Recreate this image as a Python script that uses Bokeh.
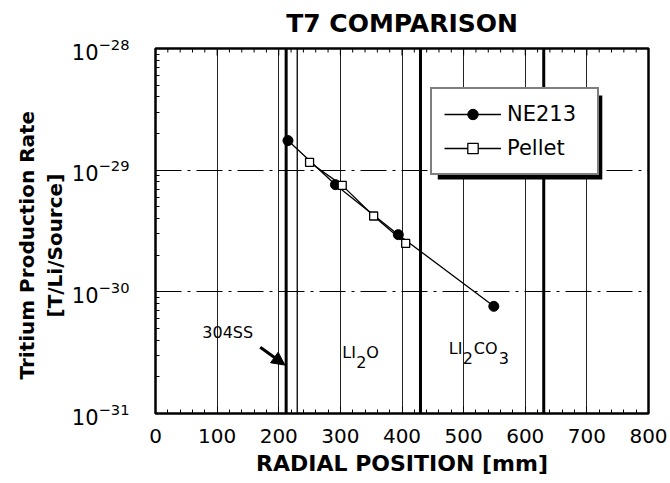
from bokeh.plotting import figure
from bokeh.models import (SingleIntervalTicker, LogTicker, Span, Arrow, Title,
                          NormalHead, Legend, LegendItem, BoxAnnotation, ColumnDataSource)
from bokeh.core.properties import value
from bokeh.embed import file_html
from bokeh.resources import INLINE

# ---- data ----
ne213_x = [215, 292, 394, 549]
ne213_y = [1.75e-29, 7.6e-30, 2.95e-30, 7.6e-31]
pellet_x = [250, 303, 354, 406]
pellet_y = [1.16e-29, 7.5e-30, 4.2e-30, 2.5e-30]

x_min, x_max, x_step, x_minor_step = 0, 800, 100, 20
y_min, y_max = 1e-31, 1e-28
boundary_thick_mm = [212, 430, 630]
boundary_thin_mm = [230]
y_title_lines = ["Tritium Production Rate", "[T/Li/Source]"]

FONT = "DejaVu Sans"
PX_PER_DECADE = 365 / 3.0

p = figure(width=670, height=483, x_range=(x_min, x_max), y_range=(y_min, y_max),
           y_axis_type="log", output_backend="svg", toolbar_location=None,
           min_border_left=155, min_border_right=22, min_border_top=48,
           min_border_bottom=70)

p.title.text = "T7 COMPARISON"
p.title.align = "center"
p.title.vertical_align = "top"
p.title.text_font = FONT
p.title.text_font_size = "25px"
p.title.text_font_style = "bold"
p.title.text_color = "black"
p.title.text_line_height = 0.8
p.title.standoff = 17

p.outline_line_color = "black"
p.outline_line_width = 2.5
p.outline_line_alpha = 1
p.background_fill_color = "white"
p.border_fill_color = "white"

# x axis
xa = p.xaxis[0]
xa.ticker = SingleIntervalTicker(interval=x_step, num_minor_ticks=5)
xa.axis_line_color = None
xa.major_tick_in = 7
xa.major_tick_out = 0
xa.minor_tick_in = 4
xa.minor_tick_out = 0
xa.major_tick_line_color = "black"
xa.minor_tick_line_color = "black"
xa.major_label_text_font = FONT
xa.major_label_text_font_size = "20px"
xa.major_label_text_color = "black"
xa.major_label_standoff = 15
xa.axis_label = "RADIAL POSITION [mm]"
xa.axis_label_text_font = FONT
xa.axis_label_text_font_size = "22px"
xa.axis_label_text_font_style = "bold"
xa.axis_label_text_color = "black"
xa.axis_label_standoff = 5

# top edge ticks (inward)
top_ticks = list(range(x_min + x_minor_step, x_max, x_minor_step))
top_len = [7 if t % x_step == 0 else 4 for t in top_ticks]
p.segment(x0=top_ticks, y0=[y_max] * len(top_ticks), x1=top_ticks,
          y1=[y_max * 10 ** (-l / PX_PER_DECADE) for l in top_len],
          line_color="black", line_width=1)

# y axis
ya = p.yaxis[0]
ya.ticker = LogTicker(num_minor_ticks=10)
ya.axis_line_color = None
ya.major_tick_in = 7
ya.major_tick_out = 0
ya.minor_tick_in = 4
ya.minor_tick_out = 0
ya.major_tick_line_color = "black"
ya.minor_tick_line_color = "black"
ya.major_label_text_font = FONT
ya.major_label_text_font_size = "21px"
ya.major_label_text_color = "black"
ya.major_label_standoff = 26

# y-axis title, two lines (inner line first)
p.add_layout(Title(text=y_title_lines[1], align="left", offset=96, standoff=3,
                   text_font=FONT, text_font_size="20px", text_font_style="bold",
                   text_color="black"), "left")
p.add_layout(Title(text=y_title_lines[0], align="left", offset=34, standoff=2,
                   text_font=FONT, text_font_size="20px", text_font_style="bold",
                   text_color="black"), "left")

# grids
p.xgrid.ticker = SingleIntervalTicker(interval=x_step)
p.xgrid.grid_line_color = "#222222"
p.xgrid.grid_line_width = 1
p.xgrid.grid_line_alpha = 1
p.ygrid.grid_line_color = "black"
p.ygrid.grid_line_width = 1.2
p.ygrid.grid_line_dash = "26 6 3 6"
p.ygrid.grid_line_alpha = 1

# material boundaries
for bx in boundary_thick_mm:
    p.add_layout(Span(location=bx, dimension="height", line_color="black", line_width=3))
for bx in boundary_thin_mm:
    p.add_layout(Span(location=bx, dimension="height", line_color="black", line_width=1.3))

# series
ne_src = ColumnDataSource(dict(x=ne213_x, y=ne213_y))
pe_src = ColumnDataSource(dict(x=pellet_x, y=pellet_y))
ne_line = p.line("x", "y", source=ne_src, line_color="black", line_width=1.3)
ne_pts = p.scatter("x", "y", source=ne_src, marker="circle", size=10,
                   fill_color="black", line_color="black")
pe_line = p.line("x", "y", source=pe_src, line_color="black", line_width=1.3)
pe_pts = p.scatter("x", "y", source=pe_src, marker="square", size=8,
                   fill_color="white", line_color="black", line_width=1.3)

# annotations
p.text(x=[76], y=[4.6e-31], text=["304SS"], text_font=value(FONT),
       text_font_size="16px", text_baseline="middle", text_align="left", text_color="black")
p.add_layout(Arrow(x_start=170, y_start=3.5e-31, x_end=210, y_end=2.5e-31,
                   line_width=3, line_color="black",
                   end=NormalHead(size=13, fill_color="black", line_color="black")))

li2o_text = ["LI", "2", "O"]
p.text(x=[303] * 3, y=[3.15e-31] * 3, text=li2o_text, x_offset=[0, 14, 24],
       y_offset=[0, 9, 0], text_font=value(FONT), text_font_size="16px",
       text_baseline="middle", text_align="left", text_color="black")
li2co3_text = ["LI", "2", "CO", "3"]
p.text(x=[476] * 4, y=[3.4e-31] * 4, text=li2co3_text, x_offset=[0, 14, 25, 50],
       y_offset=[0, 9, 0, 9], text_font=value(FONT), text_font_size="16px",
       text_baseline="middle", text_align="left", text_color="black")

# legend shadow + legend
p.add_layout(BoxAnnotation(left=458, right=725, top=4.1e-29, bottom=8.4e-30,
                           fill_color="black", fill_alpha=1, line_color=None,
                           level="overlay"))
legend = Legend(items=[LegendItem(label="NE213", renderers=[ne_line, ne_pts]),
                       LegendItem(label="Pellet", renderers=[pe_line, pe_pts])],
                location=(275, 238), orientation="vertical",
                label_text_font=FONT, label_text_font_size="21px",
                label_text_color="black", glyph_width=57, glyph_height=26,
                label_height=26, label_width=78, label_standoff=6, spacing=8,
                padding=12, margin=0, border_line_color="black", border_line_width=2,
                background_fill_color="white", background_fill_alpha=1)
p.add_layout(legend, "center")

open("out.html", "w").write(file_html(p, INLINE))
